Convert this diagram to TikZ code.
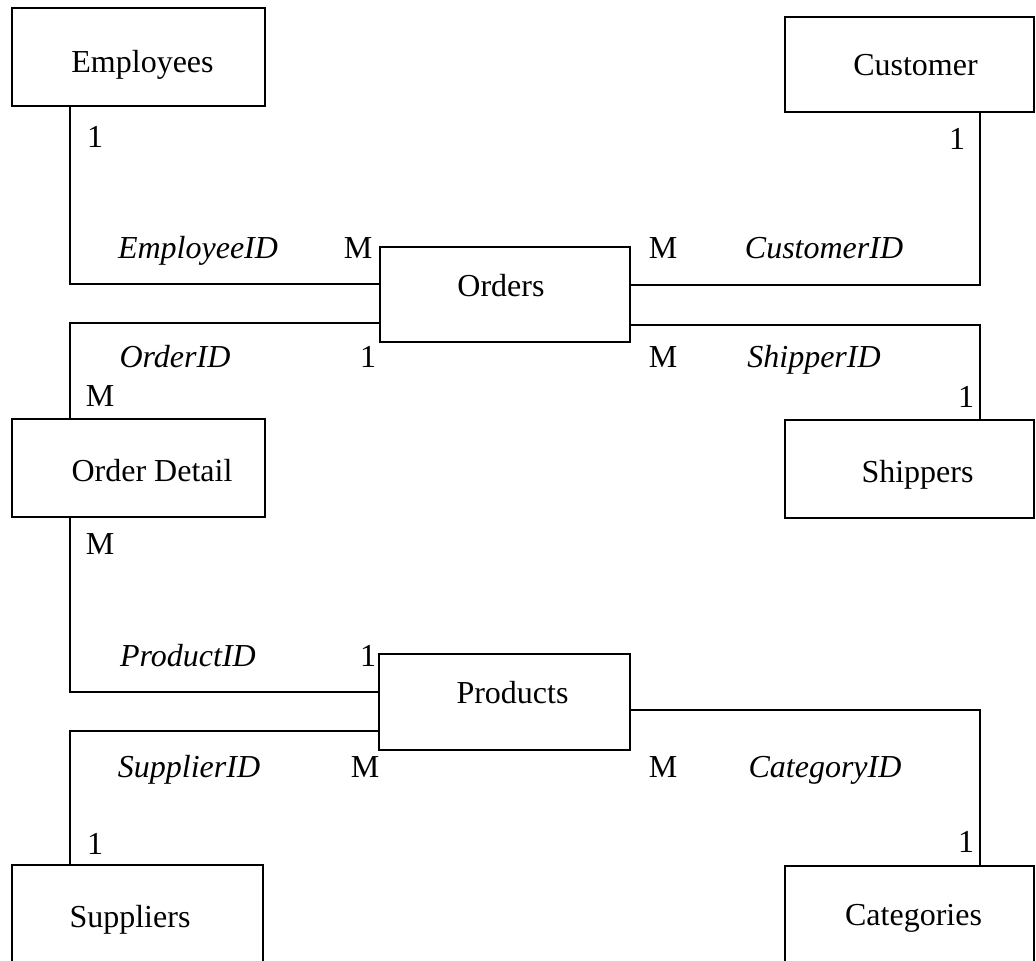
\documentclass[tikz,border=0pt]{standalone}
\usepackage{fontspec}
\setmainfont{Liberation Serif}
\newcommand{\shiftr}[2]{\hspace*{#1}#2}
\newcommand{\shiftl}[2]{#2\hspace*{#1}}
\begin{document}
\begin{tikzpicture}[x=0.5pt,y=-0.5pt,
  entity/.style={draw, line width=1pt, inner sep=0pt, text depth=0pt, font=\fontsize{16}{19}\selectfont},
  link/.style={line width=1pt},
  card/.style={anchor=base, inner sep=0pt, font=\fontsize{16}{19}\selectfont},
  key/.style={anchor=base, inner sep=0pt, font=\fontsize{16}{19}\selectfont\itshape}]
\useasboundingbox (0,0) rectangle (1036,960);
\fill[white] (0,0) rectangle (1036,960);

% tables (text height sets where each name's baseline sits in its box)
\node[entity, minimum width=126.5pt, minimum height=49pt, text height=15pt]   (emp)  at (138.5,57)  {\shiftr{4pt}{Employees}};
\node[entity, minimum width=124.5pt, minimum height=47.5pt, text height=10.5pt] (cust) at (909.5,64.5) {\shiftr{6pt}{Customer}};
\node[entity, minimum width=125pt,   minimum height=47.5pt, text height=2pt]  (ord)  at (505,294.5) {\shiftl{4pt}{Orders}};
\node[entity, minimum width=126.5pt, minimum height=49pt, text height=13pt]   (od)   at (138.5,468) {\shiftr{13.5pt}{Order Detail}};
\node[entity, minimum width=124.5pt, minimum height=49pt, text height=13pt]   (ship) at (909.5,469) {\shiftr{8pt}{Shippers}};
\node[entity, minimum width=125.5pt, minimum height=48pt, text height=1.5pt]  (prod) at (504.5,702) {\shiftr{8pt}{Products}};
\node[entity, minimum width=125.5pt, minimum height=49pt, text height=13pt]   (sup)  at (137.5,914) {\shiftl{7.5pt}{Suppliers}};
\node[entity, minimum width=124.5pt, minimum height=49pt, text height=10pt]   (cat)  at (909.5,915) {\shiftr{4pt}{Categories}};

% relationships
\draw[link] (emp.south -| 70,0) |- (ord.west |- 0,284);
\draw[link] (ord.west |- 0,323) -| (od.north -| 70,0);
\draw[link] (cust.south -| 980,0) |- (ord.east |- 0,285);
\draw[link] (ord.east |- 0,325) -| (ship.north -| 980,0);
\draw[link] (od.south -| 70,0) |- (prod.west |- 0,692);
\draw[link] (prod.west |- 0,731) -| (sup.north -| 70,0);
\draw[link] (prod.east |- 0,710) -| (cat.north -| 980,0);

% cardinalities and keys
\node[card] (c1)  at (95,147)  {1};
\node[key]  (k1)  at (198,258) {EmployeeID};
\node[card] (c2)  at (358,258) {M};
\node[card] (c3)  at (663,258) {M};
\node[key]  (k2)  at (824,258) {CustomerID};
\node[card] (c4)  at (957,149) {1};
\node[key]  (k3)  at (175,367) {OrderID};
\node[card] (c5)  at (368,367) {1};
\node[card] (c6)  at (100,406) {M};
\node[card] (c7)  at (663,367) {M};
\node[key]  (k4)  at (814,367) {ShipperID};
\node[card] (c8)  at (966,407) {1};
\node[card] (c9)  at (100,554) {M};
\node[key]  (k5)  at (188,666) {ProductID};
\node[card] (c10) at (368,666) {1};
\node[key]  (k6)  at (189,777) {SupplierID};
\node[card] (c11) at (365,777) {M};
\node[card] (c12) at (95,854)  {1};
\node[card] (c13) at (663,777) {M};
\node[key]  (k7)  at (825,777) {CategoryID};
\node[card] (c14) at (966,852) {1};
\end{tikzpicture}
\end{document}
